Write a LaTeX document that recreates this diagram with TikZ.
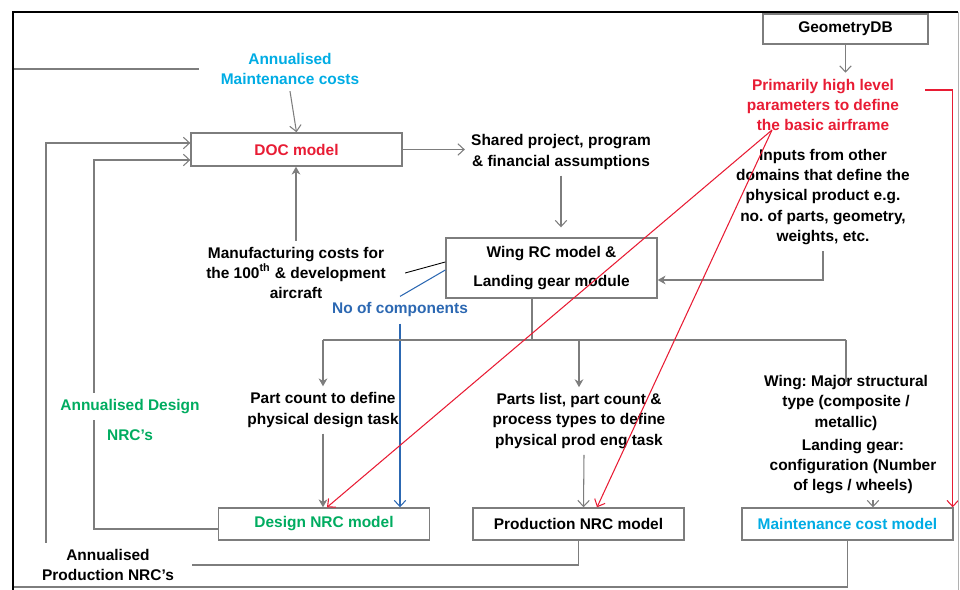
\documentclass[tikz,border=0pt]{standalone}
\usepackage{fontspec}
\setmainfont{Liberation Sans}
\usetikzlibrary{arrows.meta,positioning}

\definecolor{lineGray}{RGB}{125,125,125}
\definecolor{docRed}{RGB}{232,28,52}
\definecolor{maintCyan}{RGB}{0,172,228}
\definecolor{nrcGreen}{RGB}{0,172,96}
\definecolor{compBlue}{RGB}{44,104,178}

\begin{document}
\begin{tikzpicture}
  [x=0.02cm, y=-0.02cm, line width=0.6pt,
  >={Straight Barb[length=3.5pt,width=6.5pt]},
  every node/.style={font=\fontsize{8.8}{11.5}\selectfont\bfseries\frenchspacing, align=center},
  modelbox/.style={rectangle, draw=lineGray, line width=0.8pt, fill=white,
    minimum width=4.22cm, minimum height=0.64cm},
  flow/.style={draw=lineGray, ->},
  fillflow/.style={draw=lineGray, -{Stealth[length=4.5pt,width=5pt]}},
  plain/.style={draw=lineGray},
  redflow/.style={draw=docRed, ->}]

  \useasboundingbox (0,0) rectangle (960,590);

  % rails for the feedback loops
  \coordinate (railA) at (46,0);
  \coordinate (railB) at (94,0);
  \coordinate (railC) at (13,0);
  \coordinate (bottomrail) at (0,587);
  \coordinate (bus) at (532,340);
  \coordinate (redsrc) at (772,130);

  \node [modelbox, minimum width=3.3cm, minimum height=0.6cm] (geo) at (845.5,29) {GeometryDB};
  \node [text=docRed] (prim) at (823,105) {Primarily high level\\parameters to define\\the basic airframe};
  \node (inputs) at (823,197) {Inputs from other\\domains that define the\\physical product e.g.\\no. of parts, geometry,\\weights, etc.};
  \node [modelbox, text=docRed, minimum height=0.66cm] (doc) at (296.5,149.5) {DOC model};
  \node [text=maintCyan] (maintlbl) at (290,69) {Annualised\\Maintenance costs};
  \node (shared) at (561,152) {Shared project, program\\\& financial assumptions};
  \node [modelbox, minimum height=1.2cm] (wing) at (551.5,268) {Wing RC model \&\\[5.5pt]Landing gear module};
  \node (mfg) at (296,273) {Manufacturing costs for\\the 100\textsuperscript{th} \& development\\aircraft};
  \node [text=compBlue] (ncomp) at (400,310) {No of components};
  \node (part) at (323,410) {Part count to define\\physical design task};
  \node (parts) at (579,421) {Parts list, part count \&\\process types to define\\physical prod eng task};
  \node (wingtype) at (846,403) {Wing: Major structural\\type (composite /\\metallic)};
  \node (landing) [below=-0.08cm of wingtype, xshift=0.14cm] {Landing gear:\\configuration (Number\\of legs / wheels)};
  \node [modelbox, text=nrcGreen] (design) at (324,524) {Design NRC model};
  \node [modelbox] (prod) at (578.5,524) {Production NRC model};
  \node [modelbox, text=maintCyan] (maint) at (847.5,524) {Maintenance cost model};
  \node (prodlbl) at (108,565) {Annualised\\Production NRC's};
  \node [text=nrcGreen] (designlbl) at (130,420) {Annualised Design\\[6pt]NRC's};

  % inputs to the models
  \draw [flow] (geo.south) -- (geo.south |- prim.north);
  \draw [fillflow] (inputs.south) |- ([yshift=-0.24cm]wing.east);
  \draw [flow] (doc.east) -- (doc.east -| shared.west);
  \draw [flow, shorten >=0.2cm] (shared.south) -- (shared.south |- wing.north);
  \draw [fillflow] (mfg.north) -- (mfg.north |- doc.south);
  \draw [black, line width=0.5pt] ([xshift=0.26cm]mfg.east) -- ([yshift=0.12cm]wing.west);
  \draw [compBlue] ([yshift=-0.04cm]wing.west) -- (ncomp.north);
  \draw [compBlue, ->] (ncomp.south) -- (ncomp.south |- design.north);

  % distribution bus below the wing module
  \draw [plain] (wing.south -| bus) -- (bus);
  \draw [plain] (part.north |- bus) -- (wingtype.north |- bus);
  \draw [fillflow] (part.north |- bus) -- (part.north);
  \draw [fillflow] (parts.north |- bus) -- (parts.north);
  \draw [plain] (wingtype.north |- bus) -- ([yshift=-0.25cm]wingtype.north);
  \draw [fillflow] (part.south) -- (part.south |- design.north);
  \draw [flow] ([xshift=0.1cm]parts.south) -- ([xshift=0.1cm]prod.north);
  \draw [flow] ([xshift=0.4cm]landing.south) -- ([xshift=0.4cm]landing.south |- maint.north);

  % red parameter links
  \draw [redflow] (redsrc) -- ([xshift=0.06cm]design.north);
  \draw [redflow] (redsrc) -- ([xshift=0.37cm]prod.north);
  \draw [redflow] ([xshift=0.4cm,yshift=0.3cm]prim.east) -| ([xshift=-0.02cm]maint.north east);

  % feedback loops into the DOC model
  \draw [plain] ([yshift=-0.1cm]design.west) -| (designlbl.west -| railB);
  \draw [flow] (designlbl.north -| railB) |- ([yshift=-0.21cm]doc.west);
  \draw [plain] (prod.south) |- ([xshift=0.24cm]prodlbl.east);
  \draw [flow] (prodlbl.north -| railA) |- ([yshift=0.13cm]doc.west);
  \draw [plain] (maint.south) -- (maint.south |- bottomrail) -| (railC |- maintlbl.west)
    -- ([xshift=-0.3cm]maintlbl.west);
  \draw [flow] (maintlbl.south) -- (doc.north);

  % frame
  \draw [black, line width=1.2pt] (13,590) -- (13,12) -- (958,12);
  \draw [lineGray!60, line width=0.5pt] (958,12) -- (958,590);
\end{tikzpicture}
\end{document}
